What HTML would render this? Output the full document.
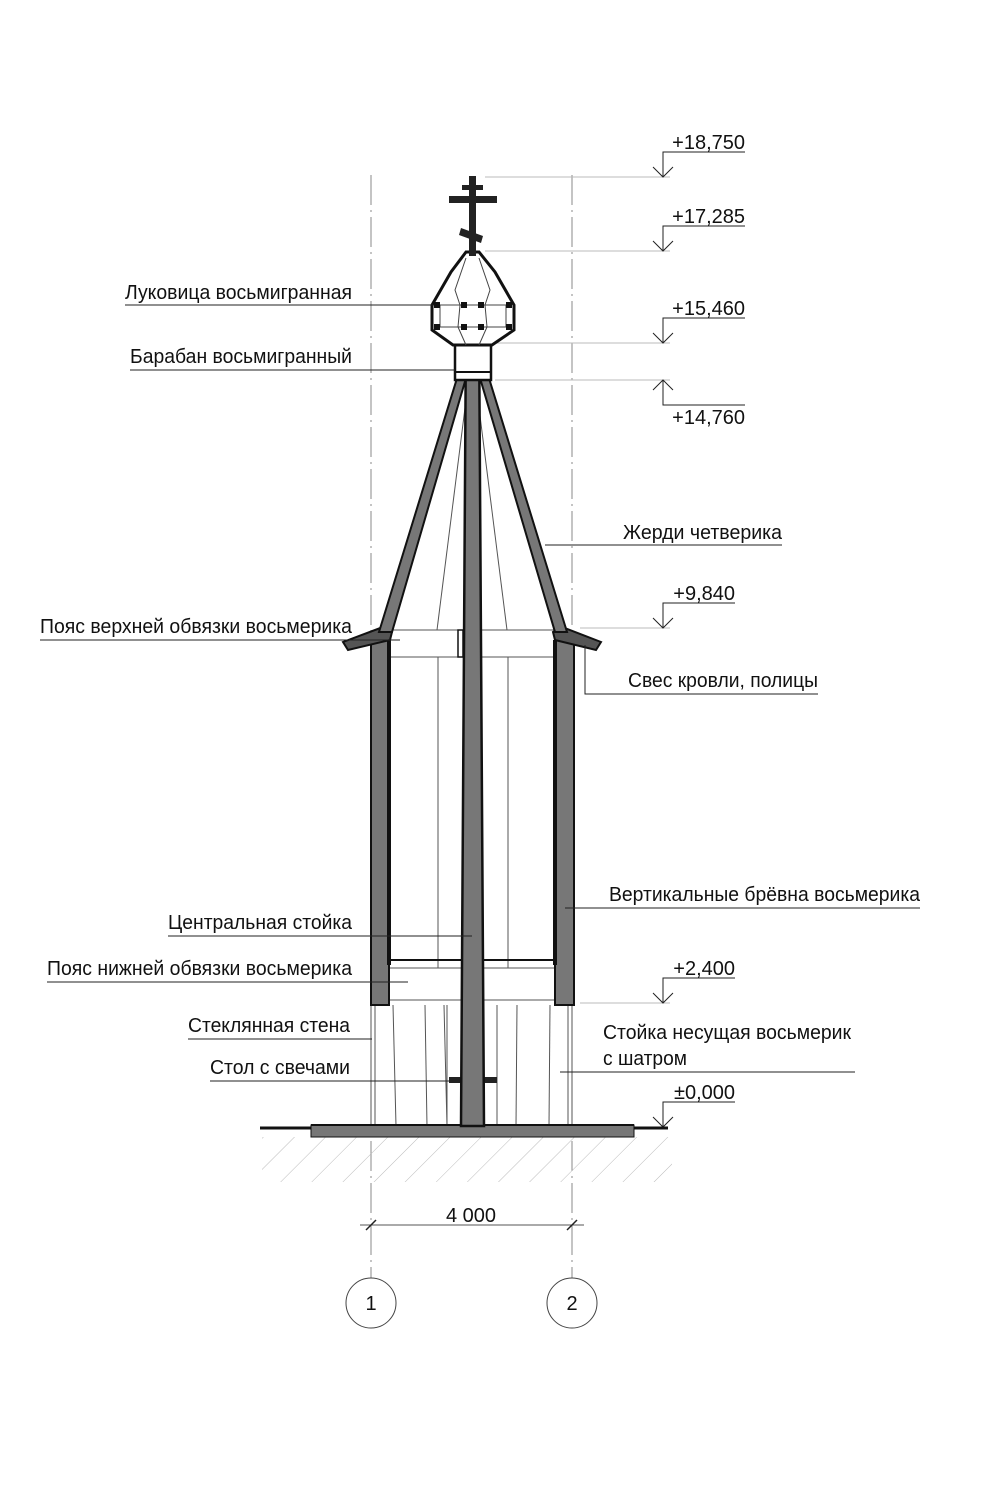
<!DOCTYPE html>
<html><head><meta charset="utf-8"><style>
html,body{margin:0;padding:0;background:#fff}
svg{display:block}
text{font-family:"Liberation Sans",sans-serif;font-size:20px;fill:#111}
</style></head><body>
<svg width="984" height="1500" viewBox="0 0 984 1500" xmlns="http://www.w3.org/2000/svg">
<defs>
<pattern id="h" width="22" height="22" patternUnits="userSpaceOnUse" patternTransform="rotate(45)">
<line x1="0" y1="0" x2="0" y2="22" stroke="#bbb" stroke-width="1"/>
</pattern>
</defs>
<!-- axes -->
<g stroke="#888" stroke-width="1" stroke-dasharray="30,5,2,5">
<line x1="371" y1="175" x2="371" y2="1280"/>
<line x1="572" y1="175" x2="572" y2="1280"/>
</g>
<!-- level lines -->
<g stroke="#bbb" stroke-width="1">
<line x1="485" y1="177" x2="670" y2="177"/>
<line x1="485" y1="251" x2="670" y2="251"/>
<line x1="495" y1="343" x2="670" y2="343"/>
<line x1="495" y1="380" x2="670" y2="380"/>
<line x1="580" y1="628" x2="670" y2="628"/>
<line x1="580" y1="1003" x2="670" y2="1003"/>
</g>
<!-- level marks -->
<g stroke="#222" stroke-width="1" fill="none">
<polyline points="745,152 663,152 663,177"/><polyline points="653,167 663,177 673,167"/>
<polyline points="745,226 663,226 663,251"/><polyline points="653,241 663,251 673,241"/>
<polyline points="745,318 663,318 663,343"/><polyline points="653,333 663,343 673,333"/>
<polyline points="745,405 663,405 663,380"/><polyline points="653,390 663,380 673,390"/>
<polyline points="735,603 663,603 663,628"/><polyline points="653,618 663,628 673,618"/>
<polyline points="735,978 663,978 663,1003"/><polyline points="653,993 663,1003 673,993"/>
<polyline points="735,1102 663,1102 663,1127"/><polyline points="653,1117 663,1127 673,1117"/>
</g>
<g>
<text x="745" y="149" text-anchor="end">+18,750</text>
<text x="745" y="223" text-anchor="end">+17,285</text>
<text x="745" y="315" text-anchor="end">+15,460</text>
<text x="745" y="424" text-anchor="end">+14,760</text>
<text x="735" y="600" text-anchor="end">+9,840</text>
<text x="735" y="975" text-anchor="end">+2,400</text>
<text x="735" y="1099" text-anchor="end">±0,000</text>
</g>
<!-- hatch ground -->
<rect x="262" y="1137" width="410" height="45" fill="url(#h)"/>
<!-- glass wall -->
<g stroke="#555" stroke-width="1">
<line x1="371" y1="1003" x2="371" y2="1126"/><line x1="375" y1="1003" x2="375" y2="1126"/>
<line x1="568" y1="1003" x2="568" y2="1126"/><line x1="572" y1="1003" x2="572" y2="1126"/>
<line x1="393" y1="1005" x2="396" y2="1126"/><line x1="425" y1="1005" x2="427" y2="1126"/>
<line x1="444" y1="1005" x2="447" y2="1126"/><line x1="447" y1="1005" x2="447" y2="1126"/>
<line x1="497" y1="1005" x2="497" y2="1126"/><line x1="517" y1="1005" x2="516" y2="1126"/>
<line x1="550" y1="1005" x2="549" y2="1126"/>
</g>
<!-- candle tables -->
<rect x="449" y="1077" width="13" height="6" fill="#222"/><rect x="484" y="1077" width="13" height="6" fill="#222"/>
<!-- base slab -->
<rect x="311" y="1125" width="323" height="12" fill="#777" stroke="#111" stroke-width="1"/>
<line x1="260" y1="1128" x2="311" y2="1128" stroke="#111" stroke-width="3"/>
<line x1="634" y1="1128" x2="668" y2="1128" stroke="#111" stroke-width="3"/>
<line x1="311" y1="1125" x2="634" y2="1125" stroke="#111" stroke-width="2"/>
<!-- interior lines octagon -->
<g stroke="#555" stroke-width="1" fill="none">
<line x1="388" y1="630" x2="556" y2="630"/><line x1="388" y1="657" x2="556" y2="657"/>
<line x1="388" y1="968" x2="556" y2="968"/><line x1="388" y1="1000" x2="556" y2="1000"/>
<line x1="438" y1="657" x2="438" y2="968"/><line x1="508" y1="657" x2="508" y2="968"/>
<line x1="466" y1="400" x2="437" y2="630"/><line x1="478" y1="400" x2="507" y2="630"/>
</g>
<line x1="390" y1="960" x2="555" y2="960" stroke="#111" stroke-width="2"/>
<!-- octagon walls -->
<rect x="371" y="640" width="18" height="365" fill="#777" stroke="#111" stroke-width="2"/>
<rect x="555" y="640" width="19" height="365" fill="#777" stroke="#111" stroke-width="2"/>
<rect x="387" y="640" width="4" height="325" fill="#111"/>
<rect x="553" y="640" width="4" height="325" fill="#111"/>
<!-- eaves -->
<polygon points="343,642 383,627 392,632 390,640 348,650" fill="#555" stroke="#111" stroke-width="2"/>
<polygon points="601,642 562,627 553,632 555,640 596,650" fill="#555" stroke="#111" stroke-width="2"/>
<!-- rafters -->
<polygon points="458,375 466,378 392,632 379,632" fill="#777" stroke="#111" stroke-width="2"/>
<polygon points="488,375 480,378 555,632 567,632" fill="#777" stroke="#111" stroke-width="2"/>
<!-- central post -->
<polygon points="466,320 479,320 484,1126 461,1126" fill="#777" stroke="#111" stroke-width="2.5"/>
<rect x="458" y="630" width="5" height="27" fill="#fff" stroke="#111" stroke-width="1.5"/>
<!-- drum -->
<rect x="455" y="342" width="36" height="38" fill="#fff" stroke="#111" stroke-width="2.5"/>
<line x1="455" y1="372" x2="491" y2="372" stroke="#111" stroke-width="2"/>
<!-- dome -->
<polygon points="466,252 479,252 495,272 514,305 514,330 492,345 453,345 432,330 432,305 451,272" fill="#fff" stroke="#111" stroke-width="3"/>
<g stroke="#444" stroke-width="1" fill="none">
<line x1="436" y1="305" x2="510" y2="305"/><line x1="436" y1="327" x2="510" y2="327"/>
<polyline points="466,258 455,290 460,305 458,327 466,345"/>
<polyline points="479,258 490,290 485,305 487,327 479,345"/>
<line x1="440" y1="305" x2="440" y2="327"/><line x1="506" y1="305" x2="506" y2="327"/>
</g>
<g fill="#111">
<rect x="434" y="302" width="6" height="6"/><rect x="506" y="302" width="6" height="6"/>
<rect x="434" y="324" width="6" height="6"/><rect x="506" y="324" width="6" height="6"/>
<rect x="461" y="302" width="6" height="6"/><rect x="478" y="302" width="6" height="6"/>
<rect x="461" y="324" width="6" height="6"/><rect x="478" y="324" width="6" height="6"/>
</g>
<!-- cross -->
<rect x="469" y="176" width="7" height="80" fill="#222"/>
<rect x="462" y="185" width="21" height="5" fill="#222"/>
<rect x="449" y="196" width="48" height="7" fill="#222"/>
<polygon points="461,228 483,236 481,243 459,235" fill="#222"/>
<!-- leader lines -->
<g stroke="#222" stroke-width="1" fill="none">
<line x1="125" y1="305" x2="434" y2="305"/>
<line x1="130" y1="370" x2="455" y2="370"/>
<line x1="545" y1="545" x2="782" y2="545"/>
<line x1="40" y1="640" x2="400" y2="640"/>
<polyline points="585,645 585,694 818,694"/>
<line x1="565" y1="908" x2="920" y2="908"/>
<line x1="168" y1="936" x2="472" y2="936"/>
<line x1="47" y1="982" x2="408" y2="982"/>
<line x1="188" y1="1039" x2="372" y2="1039"/>
<line x1="210" y1="1081" x2="455" y2="1081"/>
<line x1="560" y1="1072" x2="855" y2="1072"/>
</g>
<g text-anchor="end">
<text x="352" y="299" textLength="227" lengthAdjust="spacingAndGlyphs">Луковица восьмигранная</text>
<text x="352" y="363" textLength="222" lengthAdjust="spacingAndGlyphs">Барабан восьмигранный</text>
<text x="352" y="633" textLength="312" lengthAdjust="spacingAndGlyphs">Пояс верхней обвязки восьмерика</text>
<text x="352" y="929" textLength="184" lengthAdjust="spacingAndGlyphs">Центральная стойка</text>
<text x="352" y="975" textLength="305" lengthAdjust="spacingAndGlyphs">Пояс нижней обвязки восьмерика</text>
<text x="350" y="1032" textLength="162" lengthAdjust="spacingAndGlyphs">Стеклянная стена</text>
<text x="350" y="1074" textLength="140" lengthAdjust="spacingAndGlyphs">Стол с свечами</text>
</g>
<text x="623" y="539" textLength="159" lengthAdjust="spacingAndGlyphs">Жерди четверика</text>
<text x="628" y="687" textLength="190" lengthAdjust="spacingAndGlyphs">Свес кровли, полицы</text>
<text x="609" y="901" textLength="311" lengthAdjust="spacingAndGlyphs">Вертикальные брёвна восьмерика</text>
<text x="603" y="1039" textLength="248" lengthAdjust="spacingAndGlyphs">Стойка несущая восьмерик</text>
<text x="603" y="1065" textLength="84" lengthAdjust="spacingAndGlyphs">с шатром</text>
<!-- dimension -->
<line x1="360" y1="1225" x2="584" y2="1225" stroke="#555" stroke-width="1"/>
<line x1="366" y1="1230" x2="376" y2="1220" stroke="#222" stroke-width="1.5"/>
<line x1="567" y1="1230" x2="577" y2="1220" stroke="#222" stroke-width="1.5"/>
<text x="471" y="1222" text-anchor="middle">4 000</text>
<!-- axis bubbles -->
<circle cx="371" cy="1303" r="25" fill="#fff" stroke="#444" stroke-width="1"/>
<circle cx="572" cy="1303" r="25" fill="#fff" stroke="#444" stroke-width="1"/>
<text x="371" y="1310" text-anchor="middle">1</text>
<text x="572" y="1310" text-anchor="middle">2</text>
</svg>
</body></html>
